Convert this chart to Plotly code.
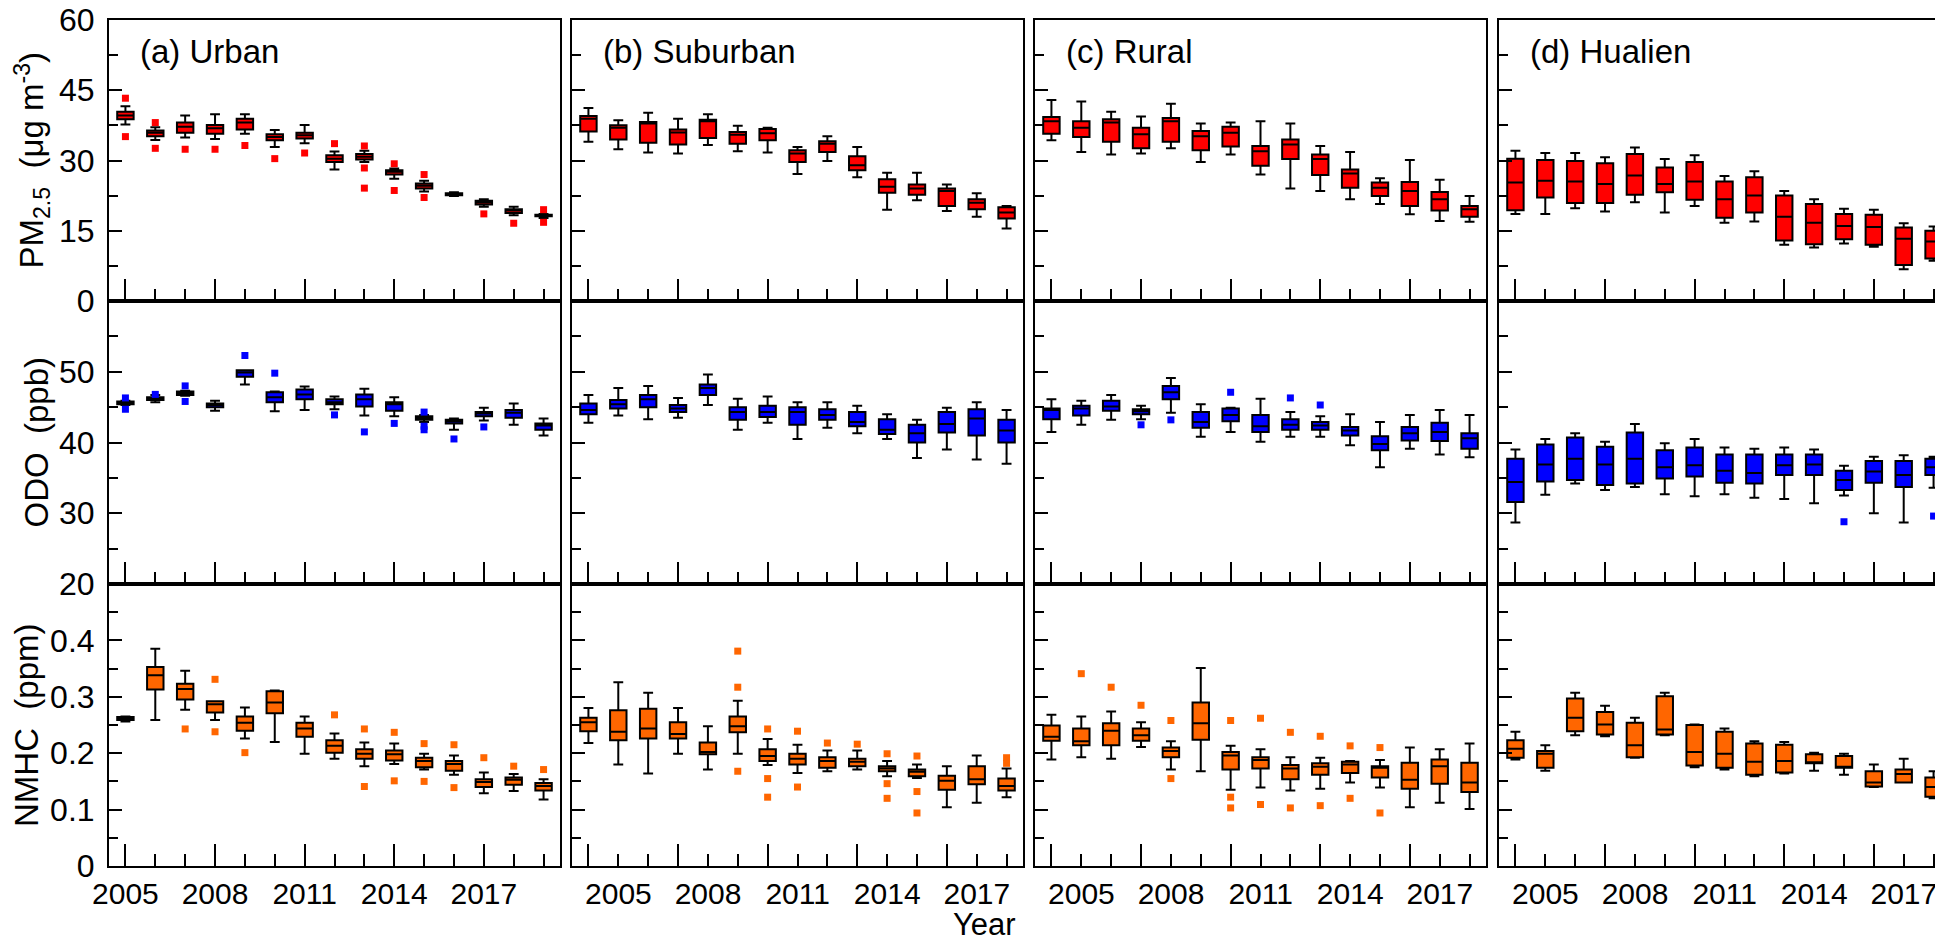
import plotly.graph_objects as go

W, H = 1943, 940
FONT = "Liberation Sans, Arial, sans-serif"

years = list(range(2005, 2020))
major_years = [2005, 2008, 2011, 2014, 2017]
minor_years = [y for y in years if y not in major_years]
tick_text = ["2005", "2008", "2011", "2014", "2017"]

sites = ["(a) Urban", "(b) Suburban", "(c) Rural", "(d) Hualien"]

# Each box list: [lower whisker, q1, median, q3, upper whisker]
# ---------------- PM2.5 (ug m-3) ----------------
pm_urban = [
    [37.7, 34.4, 34.9, 34.6, 35.7, 32.9, 33.7, 28.1, 29.7, 26.1, 23.4, 22.4, 20.1, 18.3, 17.7],
    [38.8, 35.2, 35.9, 35.7, 36.6, 34.3, 34.7, 29.7, 30.2, 27.0, 24.0, 22.6, 20.6, 18.8, 18.1],
    [39.6, 35.9, 37.2, 36.9, 38.1, 35.0, 35.4, 30.4, 30.8, 27.6, 24.6, 22.9, 21.1, 19.3, 18.2],
    [40.4, 36.4, 38.1, 37.6, 38.9, 35.6, 35.9, 31.1, 31.4, 27.9, 25.1, 23.0, 21.4, 19.6, 18.4],
    [41.6, 37.1, 39.6, 39.9, 39.9, 36.5, 37.6, 31.9, 32.1, 28.3, 25.7, 23.2, 21.7, 20.1, 18.6],
]
pm_suburban = [
    [34.0, 32.4, 31.7, 31.5, 33.3, 32.0, 31.7, 27.1, 29.9, 26.4, 19.5, 21.5, 19.2, 18.0, 15.5],
    [36.2, 34.5, 33.8, 33.4, 34.8, 33.6, 34.3, 29.7, 31.8, 27.9, 23.1, 22.7, 20.3, 19.6, 17.6],
    [38.9, 37.0, 37.9, 36.0, 38.4, 35.5, 35.8, 31.5, 33.6, 29.0, 24.4, 24.0, 23.5, 21.0, 18.9],
    [39.5, 37.5, 38.2, 36.6, 38.7, 36.1, 36.7, 32.2, 34.1, 30.9, 26.0, 24.9, 24.0, 21.7, 20.0],
    [41.2, 38.6, 40.2, 38.9, 39.9, 37.4, 37.0, 32.9, 35.2, 32.9, 27.4, 27.4, 24.9, 23.0, 20.3],
]
pm_rural = [
    [34.3, 31.8, 31.3, 31.5, 32.6, 29.7, 31.3, 27.0, 24.0, 23.5, 21.7, 20.7, 18.5, 17.1, 16.9],
    [35.7, 35.0, 34.0, 32.6, 34.0, 32.2, 33.0, 28.9, 30.3, 26.9, 24.2, 22.4, 20.3, 19.3, 18.0],
    [38.4, 37.0, 38.1, 35.6, 38.4, 35.2, 35.9, 32.0, 33.4, 30.3, 27.2, 24.2, 23.5, 21.7, 19.6],
    [39.3, 38.4, 38.8, 37.0, 39.1, 36.3, 37.2, 33.1, 34.5, 31.3, 28.1, 25.3, 25.4, 23.3, 20.3],
    [42.9, 42.6, 40.4, 39.4, 42.1, 37.9, 38.1, 38.4, 37.9, 33.1, 31.8, 26.2, 30.1, 25.9, 22.4],
]
pm_hualien = [
    [18.6, 18.6, 19.8, 19.1, 21.1, 18.9, 20.3, 16.7, 17.0, 12.0, 11.4, 12.3, 11.6, 6.8, 8.6],
    [19.4, 22.1, 20.9, 20.9, 22.7, 23.2, 21.6, 17.8, 18.9, 12.9, 12.1, 13.2, 12.0, 7.7, 9.1],
    [25.3, 25.7, 25.5, 25.0, 26.8, 25.0, 25.5, 21.7, 22.5, 18.0, 16.7, 16.0, 15.8, 13.3, 12.7],
    [30.4, 30.1, 29.9, 29.4, 31.4, 28.5, 29.7, 25.5, 26.4, 22.5, 20.7, 18.6, 18.4, 15.7, 15.0],
    [32.1, 31.6, 31.6, 30.7, 32.8, 30.3, 31.1, 26.7, 27.7, 23.5, 21.7, 19.7, 19.5, 16.6, 15.9],
]
pm_urban_out = [(2005, 43.3), (2005, 35.1), (2006, 38.1), (2006, 32.6), (2007, 32.4), (2008, 32.4),
                (2009, 33.2), (2010, 30.4), (2011, 31.6), (2012, 33.6), (2013, 33.1), (2013, 28.4),
                (2013, 24.1), (2014, 29.3), (2014, 23.6), (2015, 27.0), (2015, 22.1), (2017, 18.6),
                (2018, 16.6), (2019, 19.5), (2019, 16.8)]
pm_suburban_out = []
pm_rural_out = []
pm_hualien_out = []

# ---------------- ODO (ppb) ----------------
odo_urban = [
    [45.3, 45.7, 46.6, 44.5, 48.2, 44.4, 44.6, 44.7, 43.8, 43.7, 42.9, 41.8, 43.1, 42.5, 41.0],
    [45.4, 46.0, 46.7, 45.0, 49.3, 45.7, 46.1, 45.4, 45.1, 44.5, 43.2, 42.7, 43.7, 43.5, 41.8],
    [45.6, 46.2, 47.0, 45.3, 49.9, 46.4, 46.8, 45.7, 46.1, 45.4, 43.5, 43.0, 44.1, 44.2, 42.4],
    [45.8, 46.4, 47.2, 45.5, 50.2, 47.1, 47.5, 46.1, 46.8, 45.7, 43.7, 43.2, 44.3, 44.6, 42.7],
    [45.9, 46.7, 47.3, 45.9, 50.2, 47.2, 47.9, 46.5, 47.6, 46.4, 43.9, 43.4, 44.9, 45.5, 43.4],
]
odo_suburban = [
    [42.8, 43.8, 43.3, 43.5, 45.3, 41.8, 42.8, 40.5, 42.1, 41.3, 40.5, 37.8, 39.0, 37.6, 37.0],
    [44.0, 44.8, 45.0, 44.3, 46.7, 43.2, 43.6, 42.5, 43.2, 42.3, 41.2, 40.0, 41.4, 41.0, 40.0],
    [44.6, 45.4, 46.1, 44.8, 47.7, 44.3, 44.3, 44.3, 43.9, 42.9, 41.8, 41.3, 42.6, 43.4, 41.7],
    [45.5, 46.0, 46.7, 45.3, 48.2, 45.0, 45.2, 45.0, 44.7, 44.3, 43.3, 42.5, 44.3, 44.7, 43.2],
    [46.7, 47.7, 48.0, 46.3, 49.6, 46.2, 46.5, 45.7, 45.7, 45.2, 44.0, 43.2, 44.9, 45.7, 44.6],
]
odo_rural = [
    [41.5, 42.5, 43.2, 43.3, 44.2, 40.8, 41.5, 40.1, 40.8, 40.8, 39.6, 36.5, 39.1, 38.3, 37.9],
    [43.3, 43.8, 44.5, 44.0, 46.1, 42.1, 43.0, 41.5, 41.8, 41.8, 41.0, 38.9, 40.3, 40.2, 39.1],
    [44.6, 44.8, 45.1, 44.4, 47.1, 42.9, 43.9, 42.3, 42.5, 42.4, 41.7, 39.8, 41.3, 41.5, 40.6],
    [44.8, 45.2, 45.9, 44.7, 48.0, 44.3, 44.8, 43.9, 43.3, 42.9, 42.2, 40.9, 42.2, 42.8, 41.3],
    [46.1, 45.9, 46.7, 45.2, 49.1, 45.4, 44.9, 46.2, 44.3, 43.7, 44.0, 42.9, 43.9, 44.6, 43.9],
]
odo_hualien = [
    [28.7, 32.6, 34.2, 33.3, 33.7, 32.7, 32.4, 32.7, 32.2, 32.0, 31.4, 32.5, 30.0, 28.7, 33.6],
    [31.6, 34.5, 34.7, 34.0, 34.2, 34.9, 35.2, 34.3, 34.2, 35.4, 35.4, 33.3, 34.3, 33.7, 35.4],
    [34.4, 36.9, 37.7, 36.9, 37.7, 36.5, 36.8, 36.0, 35.7, 36.8, 36.9, 34.7, 35.9, 35.4, 36.5],
    [37.7, 39.7, 40.7, 39.4, 41.4, 38.9, 39.3, 38.3, 38.3, 38.3, 38.3, 36.0, 37.4, 37.4, 37.7],
    [39.0, 40.5, 41.3, 40.1, 42.6, 39.9, 40.5, 39.3, 39.1, 39.3, 39.0, 36.7, 38.0, 38.2, 38.0],
]
odo_urban_out = [(2005, 46.3), (2005, 44.7), (2006, 46.8), (2007, 48.0), (2007, 45.8), (2009, 52.3),
                 (2010, 49.8), (2012, 43.9), (2013, 41.5), (2014, 42.7), (2015, 44.3), (2015, 42.3),
                 (2015, 41.8), (2016, 40.5), (2017, 42.2)]
odo_suburban_out = []
odo_rural_out = [(2008, 42.5), (2009, 43.2), (2011, 47.1), (2013, 46.3), (2014, 45.3)]
odo_hualien_out = [(2016, 28.8), (2019, 29.6)]

# ---------------- NMHC (ppm) ----------------
nmhc_urban = [
    [0.256, 0.259, 0.277, 0.259, 0.226, 0.220, 0.199, 0.190, 0.177, 0.181, 0.171, 0.162, 0.129, 0.133, 0.118],
    [0.259, 0.313, 0.295, 0.272, 0.240, 0.271, 0.229, 0.201, 0.190, 0.187, 0.175, 0.169, 0.140, 0.144, 0.134],
    [0.262, 0.338, 0.314, 0.287, 0.254, 0.290, 0.244, 0.213, 0.199, 0.198, 0.186, 0.181, 0.149, 0.153, 0.142],
    [0.264, 0.353, 0.323, 0.292, 0.265, 0.310, 0.254, 0.223, 0.207, 0.205, 0.192, 0.186, 0.154, 0.157, 0.147],
    [0.265, 0.385, 0.346, 0.292, 0.281, 0.311, 0.265, 0.235, 0.219, 0.217, 0.199, 0.196, 0.166, 0.163, 0.154],
]
nmhc_suburban = [
    [0.218, 0.180, 0.164, 0.199, 0.171, 0.199, 0.179, 0.165, 0.168, 0.171, 0.159, 0.156, 0.104, 0.112, 0.122],
    [0.239, 0.223, 0.226, 0.226, 0.198, 0.237, 0.186, 0.180, 0.174, 0.177, 0.168, 0.159, 0.135, 0.145, 0.134],
    [0.255, 0.238, 0.244, 0.234, 0.202, 0.248, 0.195, 0.190, 0.186, 0.185, 0.173, 0.167, 0.151, 0.154, 0.142],
    [0.263, 0.276, 0.279, 0.255, 0.219, 0.265, 0.207, 0.199, 0.193, 0.190, 0.177, 0.171, 0.160, 0.177, 0.155],
    [0.280, 0.326, 0.307, 0.280, 0.248, 0.293, 0.225, 0.215, 0.205, 0.205, 0.186, 0.180, 0.177, 0.196, 0.173],
]
nmhc_rural = [
    [0.189, 0.193, 0.190, 0.211, 0.171, 0.168, 0.135, 0.139, 0.134, 0.137, 0.148, 0.139, 0.104, 0.112, 0.101],
    [0.222, 0.214, 0.214, 0.222, 0.193, 0.224, 0.171, 0.173, 0.154, 0.162, 0.165, 0.157, 0.137, 0.146, 0.131],
    [0.229, 0.221, 0.240, 0.232, 0.204, 0.253, 0.196, 0.188, 0.173, 0.176, 0.180, 0.174, 0.153, 0.177, 0.148],
    [0.249, 0.244, 0.253, 0.244, 0.210, 0.290, 0.202, 0.193, 0.179, 0.182, 0.185, 0.177, 0.183, 0.189, 0.183],
    [0.268, 0.265, 0.274, 0.255, 0.221, 0.351, 0.213, 0.207, 0.193, 0.192, 0.186, 0.188, 0.210, 0.207, 0.217],
]
nmhc_hualien = [
    [0.189, 0.169, 0.232, 0.230, 0.192, 0.232, 0.175, 0.171, 0.159, 0.164, 0.169, 0.162, 0.140, 0.148, 0.120],
    [0.192, 0.174, 0.239, 0.233, 0.193, 0.233, 0.178, 0.174, 0.162, 0.166, 0.182, 0.174, 0.141, 0.148, 0.123],
    [0.208, 0.199, 0.263, 0.251, 0.214, 0.242, 0.202, 0.199, 0.185, 0.186, 0.184, 0.176, 0.148, 0.163, 0.140],
    [0.223, 0.204, 0.297, 0.273, 0.254, 0.301, 0.250, 0.238, 0.217, 0.215, 0.198, 0.195, 0.168, 0.171, 0.157],
    [0.238, 0.214, 0.307, 0.284, 0.263, 0.307, 0.251, 0.244, 0.221, 0.220, 0.201, 0.199, 0.180, 0.190, 0.168],
]
nmhc_urban_out = [(2007, 0.243), (2008, 0.331), (2008, 0.238), (2009, 0.201), (2012, 0.268), (2013, 0.243),
                  (2013, 0.141), (2014, 0.237), (2014, 0.151), (2015, 0.217), (2015, 0.150), (2016, 0.215),
                  (2016, 0.139), (2017, 0.192), (2018, 0.177), (2019, 0.171)]
nmhc_suburban_out = [(2010, 0.381), (2010, 0.317), (2010, 0.168), (2011, 0.243), (2011, 0.155), (2011, 0.122),
                     (2012, 0.239), (2012, 0.140), (2013, 0.218), (2014, 0.216), (2015, 0.199), (2015, 0.146),
                     (2015, 0.120), (2016, 0.195), (2016, 0.132), (2016, 0.094), (2019, 0.192), (2019, 0.182)]
nmhc_rural_out = [(2006, 0.341), (2007, 0.317), (2008, 0.285), (2009, 0.258), (2009, 0.155), (2011, 0.258),
                  (2011, 0.122), (2011, 0.103), (2012, 0.262), (2012, 0.109), (2013, 0.237), (2013, 0.103),
                  (2014, 0.230), (2014, 0.107), (2015, 0.213), (2015, 0.120), (2016, 0.210), (2016, 0.094)]
nmhc_hualien_out = []

rows = [
    dict(boxes=[pm_urban, pm_suburban, pm_rural, pm_hualien],
         outs=[pm_urban_out, pm_suburban_out, pm_rural_out, pm_hualien_out],
         color="#ff0000", range=[0, 60], tickvals=[0, 15, 30, 45, 60], minor=[7.5, 22.5, 37.5, 52.5],
         title="PM<sub>2.5</sub>\u00a0\u00a0(\u03bcg m<sup>-3</sup>)", title_x=24),
    dict(boxes=[odo_urban, odo_suburban, odo_rural, odo_hualien],
         outs=[odo_urban_out, odo_suburban_out, odo_rural_out, odo_hualien_out],
         color="#0000ff", range=[20, 60], tickvals=[20, 30, 40, 50], minor=[25, 35, 45, 55],
         title="ODO\u00a0\u00a0(ppb)", title_x=28),
    dict(boxes=[nmhc_urban, nmhc_suburban, nmhc_rural, nmhc_hualien],
         outs=[nmhc_urban_out, nmhc_suburban_out, nmhc_rural_out, nmhc_hualien_out],
         color="#ff6600", range=[0, 0.5], tickvals=[0, 0.1, 0.2, 0.3, 0.4], minor=[0.05, 0.15, 0.25, 0.35, 0.45],
         title="NMHC\u00a0\u00a0(ppm)", title_x=18),
]

# panel geometry in pixels
col_left = [101, 564, 1027, 1491]
col_w = 451
row_top = [12, 293, 576]
row_bot = [293, 576, 858]
xr = [2004.45, 2019.55]
px_per_year = int(round(col_w / (xr[1] - xr[0])))

fig = go.Figure()
layout = dict(width=W, height=H, margin=dict(l=0, r=0, t=0, b=0), autosize=False,
              paper_bgcolor="white", plot_bgcolor="white", showlegend=False,
              boxmode="overlay", font=dict(family=FONT, color="black"))
annotations = []

for r, row in enumerate(rows):
    for c in range(4):
        k = r * 4 + c + 1
        xa = "x" if k == 1 else f"x{k}"
        ya = "y" if k == 1 else f"y{k}"
        lo, q1, med, q3, hi = row["boxes"][c]
        fig.add_trace(go.Box(
            x=years, q1=q1, median=med, q3=q3, lowerfence=lo, upperfence=hi,
            xaxis=xa, yaxis=ya, width=0.55, whiskerwidth=0.6,
            fillcolor=row["color"], line=dict(color="black", width=2),
            boxpoints=False, hoverinfo="skip"))
        outs = row["outs"][c]
        if outs:
            fig.add_trace(go.Scatter(
                x=[o[0] for o in outs], y=[o[1] for o in outs], mode="markers",
                xaxis=xa, yaxis=ya, hoverinfo="skip",
                marker=dict(symbol="square", size=7, color=row["color"], line=dict(width=0))))

        xkey = "xaxis" if k == 1 else f"xaxis{k}"
        ykey = "yaxis" if k == 1 else f"yaxis{k}"
        bottom = (r == 2)
        xdict = dict(
            domain=[col_left[c] / W, (col_left[c] + col_w) / W], anchor=ya,
            range=xr, showline=True, mirror=True, linecolor="black", linewidth=2,
            ticks="inside", ticklen=22, tickwidth=2, tickcolor="black",
            tickmode="array", tickvals=major_years, ticktext=tick_text,
            showticklabels=bottom, showgrid=False, zeroline=False, automargin=False,
            tickfont=dict(size=30, family=FONT, color="black"), ticklabeloverflow="allow",
            minor=dict(tickmode="array", tickvals=minor_years, ticks="inside", ticklen=12,
                       tickwidth=2, tickcolor="black", showgrid=False),
            fixedrange=True)
        if bottom:
            xdict["ticklabelstandoff"] = 0
            if c > 0:
                xdict["ticklabelshift"] = px_per_year
        layout[xkey] = xdict
        ydict = dict(
            domain=[1 - row_bot[r] / H, 1 - row_top[r] / H], anchor=xa,
            range=row["range"], showline=True, mirror=True, linecolor="black", linewidth=2,
            ticks="inside", ticklen=13, tickwidth=2, tickcolor="black",
            tickmode="array", tickvals=row["tickvals"],
            showticklabels=(c == 0), showgrid=False, zeroline=False, automargin=False,
            tickfont=dict(size=32, family=FONT, color="black"), ticklabelstandoff=6,
            ticklabeloverflow="allow",
            minor=dict(tickmode="array", tickvals=row["minor"], ticks="inside", ticklen=9,
                       tickwidth=2, tickcolor="black", showgrid=False),
            fixedrange=True)
        layout[ykey] = ydict

        if r == 0:
            annotations.append(dict(
                text=sites[c], xref="paper", yref="paper",
                x=(col_left[c] + 29) / W, y=1 - 44 / H, xanchor="left", yanchor="middle",
                showarrow=False, font=dict(size=33, family=FONT, color="black")))
    annotations.append(dict(
        text=row["title"], xref="paper", yref="paper", textangle=-90,
        x=row["title_x"] / W, y=1 - (row_top[r] + row_bot[r]) / 2 / H,
        xanchor="center", yanchor="middle", showarrow=False,
        font=dict(size=33, family=FONT, color="black")))

annotations.append(dict(text="Year", xref="paper", yref="paper", x=976 / W, y=1 - 916 / H,
                        xanchor="center", yanchor="middle", showarrow=False,
                        font=dict(size=31, family=FONT, color="black")))
layout["annotations"] = annotations
fig.update_layout(**layout)
fig.write_html("out.html")
